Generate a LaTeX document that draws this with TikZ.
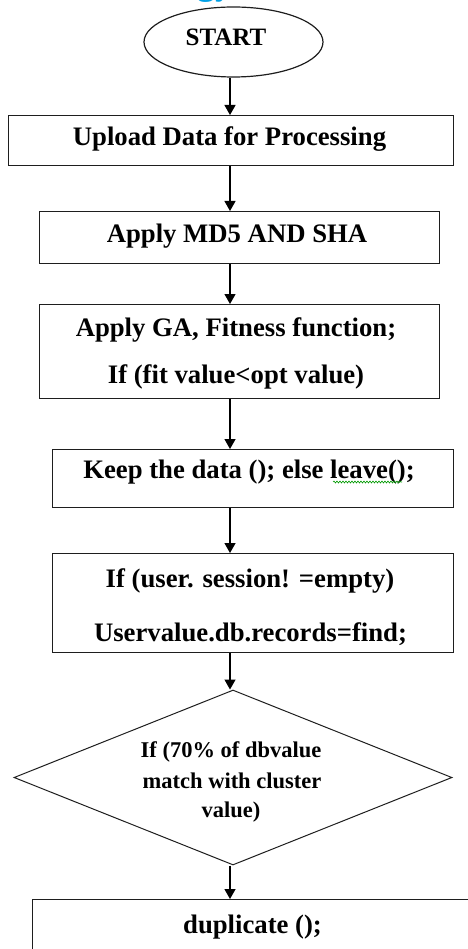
\documentclass[tikz,border=0pt]{standalone}
\usepackage{fontspec}
\setmainfont{Liberation Serif}
\usetikzlibrary{arrows.meta,shapes.geometric,decorations.pathmorphing}
\definecolor{titleblue}{RGB}{0,160,230}
\definecolor{edge}{RGB}{30,30,30}
\begin{document}
\begin{tikzpicture}[x=1pt,y=-1pt,
  box/.style={draw=edge, line width=1.3pt, rectangle, inner sep=0pt, anchor=north west},
  txt/.style={anchor=base, inner sep=0pt, font=\fontsize{26.7}{32}\selectfont\bfseries},
  dtxt/.style={anchor=base, inner sep=0pt, font=\fontsize{22.5}{27}\selectfont\bfseries},
  arr/.style={draw=black, line width=1.3pt, -{Triangle[width=11pt,length=10pt]}}]
\useasboundingbox (0,0) rectangle (467,949);
% title fragment (cut off at top)
\node[anchor=base, inner sep=0pt, text=titleblue, font=\fontsize{36}{40}\selectfont\bfseries] (title) at (215,-5) {gy};
\coordinate (ax) at (230,0);
% shapes
\node[draw=edge, line width=1.2pt, ellipse, inner sep=0pt, minimum width=179pt, minimum height=70pt] (start) at (233.5,42) {};
\node[box, minimum width=445pt, minimum height=50pt] (b1) at (8,115) {};
\node[box, minimum width=400pt, minimum height=52pt] (b2) at (39,211) {};
\node[box, minimum width=400pt, minimum height=94pt] (b3) at (39,304) {};
\node[box, minimum width=401pt, minimum height=58pt] (b4) at (52,449) {};
\node[box, minimum width=401pt, minimum height=99pt] (b5) at (52,553) {};
\node[draw=edge, line width=1pt, diamond, inner sep=0pt, minimum width=438pt, minimum height=175pt] (dia) at (233,777.5) {};
\node[box, minimum width=448pt, minimum height=80pt] (b6) at (32,899) {};
% texts
\node[txt, font=\fontsize{25}{30}\selectfont\bfseries] (t0) at (226,46) {START};
\node[txt] (t1) at (229.5,146) {Upload Data for Processing};
\node[txt] (t2) at (237,243) {Apply MD5 AND SHA};
\node[txt] (t3a) at (236,336) {Apply GA, Fitness function;};
\node[txt] (t3b) at (236,383) {If (fit value<opt value)};
\node[txt] (t4) at (249,478) {Keep the data (); else leave();};
\node[txt] (t5a) at (250,587) {If (user. session! =empty)};
\node[txt] (t5b) at (250.5,641) {Uservalue.db.records=find;};
\node[dtxt] (d1) at (231,757) {If (70\% of dbvalue};
\node[dtxt] (d2) at (232,788) {match with cluster};
\node[dtxt] (d3) at (231,817) {value)};
\node[txt] (t6) at (252.5,933) {duplicate ();};
% spell-check squiggle under "leave"
\draw[green!60!black, line width=0.6pt, decorate, decoration={snake, amplitude=1pt, segment length=3pt}] (333,482) -- (402,482);
% connectors
\draw[arr] (start.south -| ax) -- (b1.north -| ax);
\draw[arr] (b1.south -| ax) -- (b2.north -| ax);
\draw[arr] (b2.south -| ax) -- (b3.north -| ax);
\draw[arr] (b3.south -| ax) -- (b4.north -| ax);
\draw[arr] (b4.south -| ax) -- (b5.north -| ax);
\draw[arr] (b5.south -| ax) -- (dia.north -| ax);
\draw[arr] (dia.south -| ax) -- (b6.north -| ax);
\end{tikzpicture}
\end{document}
